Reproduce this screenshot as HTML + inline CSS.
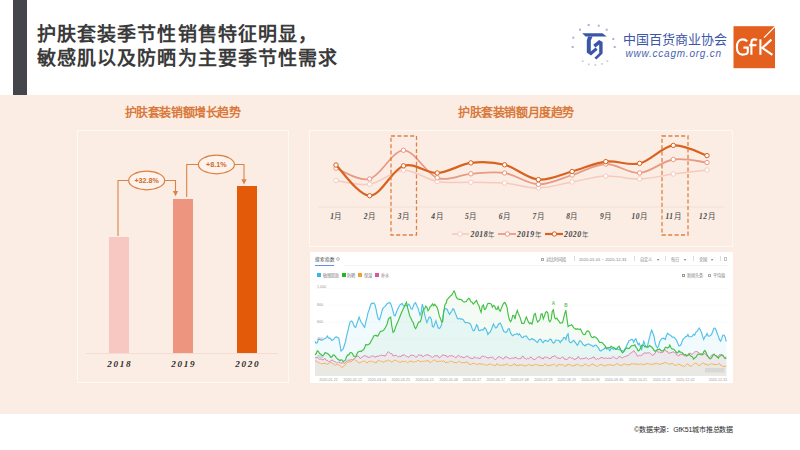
<!DOCTYPE html>
<html lang="zh-CN"><head><meta charset="utf-8">
<style>
*{margin:0;padding:0;box-sizing:border-box}
html,body{width:800px;height:450px;overflow:hidden;background:#fff;font-family:"Liberation Sans",sans-serif}
.abs{position:absolute}
#band{position:absolute;left:0;top:95px;width:800px;height:319px;background:#FBEDE4}
.title{position:absolute;left:36.9px;font-size:19px;letter-spacing:1.1px;font-weight:bold;color:#3a3a3a;line-height:24px;white-space:nowrap}
.sub{position:absolute;font-family:"Liberation Serif",serif;font-weight:bold;color:#D97A3C;font-size:12px;letter-spacing:-0.4px;white-space:nowrap;line-height:14px}
.panel{position:absolute;border:1.3px solid rgba(255,252,248,0.7)}
.bar{position:absolute}
.yr{position:absolute;font-family:"Liberation Serif",serif;font-style:italic;font-weight:bold;font-size:9.2px;letter-spacing:1.7px;color:#2e2e2e;width:40px;text-align:center;line-height:12px}
.pct{position:absolute;border:1.2px solid #D98346;border-radius:50%;color:#D06A2A;font-size:7.5px;font-weight:bold;text-align:center;background:#FBEDE4}
.bd{position:absolute;left:310px;top:252px;width:423px;height:131px;background:#fff}
.t4{position:absolute;font-size:4.2px;color:#808080;white-space:nowrap;line-height:5px}
</style></head><body>
<div class="abs" style="left:12.5px;top:0;width:14.2px;height:95px;background:#44464C"></div>
<div class="title" style="top:22.5px">护肤套装季节性销售特征明显，</div>
<div class="title" style="top:46.5px">敏感肌以及防晒为主要季节性需求</div>

<!-- CCAGM logo -->
<svg class="abs" style="left:0;top:0" width="800" height="95" viewBox="0 0 800 95">
  <g fill="#8f98c4" opacity="0.75">
    <rect x="572.3" y="36.7" width="2" height="2"/><rect x="579" y="28.7" width="2" height="2"/><rect x="587.7" y="24" width="2" height="2"/><rect x="597.7" y="24.7" width="2" height="2"/><rect x="605.7" y="28.7" width="2" height="2"/><rect x="612.3" y="38" width="2" height="2"/><rect x="613.7" y="46" width="2" height="2"/><rect x="571.7" y="46" width="2" height="2"/>
  </g>
  <g fill="#b8bdd6" opacity="0.8">
    <rect x="581.9" y="60.3" width="1.7" height="1.7"/><rect x="587.9" y="63.5" width="1.7" height="1.7"/><rect x="594.5" y="64.2" width="1.7" height="1.7"/><rect x="601.2" y="63" width="1.7" height="1.7"/><rect x="606.5" y="60.3" width="1.7" height="1.7"/>
  </g>
  <g fill="#3B55A8">
    <path d="M582.2,33.2 L602.4,33.2 L606.8,36.6 L585.6,36.6 Z"/>
    <path d="M588,36.6 L592.6,36.6 L590.8,40.5 L590.8,51.4 L595.6,47.4 L597.6,49.8 L591,55.6 L586.8,52.4 L586.8,40.4 Z"/>
    <path d="M593.2,44.8 L599.2,40 L602.6,42 L602.6,53.6 L596.4,59.6 L594.4,57.8 L599.2,53.2 L599.2,44.4 L595.4,47.4 Z"/>
  </g>
  <g fill="none" stroke="#fff" stroke-width="2.1" stroke-linecap="butt">
  </g>
</svg>
<div class="abs" style="left:622.5px;top:31.5px;font-size:13px;color:#3B55A8;letter-spacing:0px;white-space:nowrap;line-height:15px">中国百货商业协会</div>
<div class="abs" style="left:625.5px;top:47.5px;font-size:10px;font-style:italic;color:#4A63B0;letter-spacing:0.78px;white-space:nowrap;line-height:11px">www.ccagm.org.cn</div>
<!-- GfK -->
<svg class="abs" style="left:0;top:0" width="800" height="95" viewBox="0 0 800 95">
  <rect x="733.5" y="26.2" width="41.5" height="42" fill="#E4601F"/>
  <g fill="none" stroke="#fff" stroke-width="2.1">
    <path d="M747.2,41.4 C746,40 744.6,39.4 742.6,39.4 C738.8,39.4 736.9,42.8 736.9,47 C736.9,51.4 738.8,54.6 742.6,54.6 C745.4,54.6 747.8,53.6 747.8,51.8 L747.8,47.6 L743.4,47.6"/>
    <path d="M757,40.2 C756.2,39.6 755.2,39.4 754.2,39.4 C752.3,39.4 751.4,40.6 751.4,42.8 L751.4,54.8"/>
    <path d="M749.2,45.2 L756.4,45.2"/>
    <path d="M760.4,39.3 L760.4,54.8"/>
    <path d="M771.4,39.6 L762.3,47.9 L772.4,54.8" stroke-linejoin="miter"/>
  </g>
  <path d="M763.6,37.2 L775.2,25.6 L776,26.4 L764.5,37.9 Z" fill="#fff"/>
</svg>

<div id="band"></div>
<div class="sub" style="left:124.5px;top:105.5px">护肤套装销额增长趋势</div>
<div class="sub" style="left:458px;top:105.5px">护肤套装销额月度趋势</div>

<div class="panel" style="left:77px;top:130px;width:212px;height:253px"></div>
<div class="bar" style="left:109px;top:237px;width:20px;height:116px;background:#F7C8C1"></div>
<div class="bar" style="left:173px;top:198.5px;width:20px;height:154.5px;background:#EE9580"></div>
<div class="bar" style="left:237px;top:186px;width:20px;height:167px;background:#E35B08"></div>
<div class="abs" style="left:86px;top:353px;width:192px;height:1px;background:#F3DDD2"></div>
<div class="yr" style="left:99.8px;top:357.5px">2018</div>
<div class="yr" style="left:163.8px;top:357.5px">2019</div>
<div class="yr" style="left:227.8px;top:357.5px">2020</div>
<svg class="abs" style="left:0;top:0" width="300" height="260" viewBox="0 0 300 260">
  <g fill="none" stroke="#D98346" stroke-width="1.1">
    <path d="M118,236 L118,180.5 L129,180.5"/>
    <path d="M165,180.5 L175.5,180.5 L175.5,192"/>
    <path d="M186.7,197 L186.7,164.5 L198.5,164.5"/>
    <path d="M234.5,164.5 L244,164.5 L244,180.5"/>
  </g>
  <g fill="#D98346"><path d="M172.9,191 L178.1,191 L175.5,196.3 Z"/><path d="M241.4,179.3 L246.6,179.3 L244,184.5 Z"/></g>
  <ellipse cx="146.7" cy="180.5" rx="18" ry="9.3" fill="#FDF3EC" stroke="#D98346" stroke-width="1.2"/>
  <ellipse cx="216.4" cy="164.5" rx="18" ry="9.3" fill="#FDF3EC" stroke="#D98346" stroke-width="1.2"/>
  <g font-family="Liberation Sans, sans-serif" font-weight="bold" font-size="7.2" fill="#D06A2A" text-anchor="middle">
    <text x="146.7" y="183.3">+32.8%</text><text x="216.4" y="167.3">+8.1%</text>
  </g>
</svg>

<div class="panel" style="left:309.2px;top:129.8px;width:424px;height:117.2px"></div>

<svg class="abs" style="left:0;top:0" width="800" height="450" viewBox="0 0 800 450">
  <line x1="318" y1="207" x2="724" y2="207" stroke="#F3DCCF" stroke-width="0.8"/>
  <path d="M336.0,180.5 C341.6,181.1 358.5,185.9 369.7,184.2 C381.0,182.5 392.2,170.8 403.5,170.3 C414.7,169.9 425.9,179.5 437.2,181.5 C448.4,183.5 459.7,182.1 470.9,182.3 C482.2,182.6 493.4,182.1 504.6,183.0 C515.9,183.9 527.1,188.2 538.4,188.0 C549.6,187.8 560.9,184.0 572.1,182.0 C583.4,180.0 594.6,176.5 605.8,176.0 C617.1,175.5 628.3,179.3 639.6,179.0 C650.8,178.7 662.1,175.5 673.3,174.0 C684.5,172.5 701.4,170.7 707.0,170.0" fill="none" stroke="#F6CABE" stroke-width="1.5" stroke-linecap="round"/><circle cx="336.0" cy="180.5" r="2.2" fill="#fff" stroke="#F6CABE" stroke-width="1"/><circle cx="369.7" cy="184.2" r="2.2" fill="#fff" stroke="#F6CABE" stroke-width="1"/><circle cx="403.5" cy="170.3" r="2.2" fill="#fff" stroke="#F6CABE" stroke-width="1"/><circle cx="437.2" cy="181.5" r="2.2" fill="#fff" stroke="#F6CABE" stroke-width="1"/><circle cx="470.9" cy="182.3" r="2.2" fill="#fff" stroke="#F6CABE" stroke-width="1"/><circle cx="504.6" cy="183.0" r="2.2" fill="#fff" stroke="#F6CABE" stroke-width="1"/><circle cx="538.4" cy="188.0" r="2.2" fill="#fff" stroke="#F6CABE" stroke-width="1"/><circle cx="572.1" cy="182.0" r="2.2" fill="#fff" stroke="#F6CABE" stroke-width="1"/><circle cx="605.8" cy="176.0" r="2.2" fill="#fff" stroke="#F6CABE" stroke-width="1"/><circle cx="639.6" cy="179.0" r="2.2" fill="#fff" stroke="#F6CABE" stroke-width="1"/><circle cx="673.3" cy="174.0" r="2.2" fill="#fff" stroke="#F6CABE" stroke-width="1"/><circle cx="707.0" cy="170.0" r="2.2" fill="#fff" stroke="#F6CABE" stroke-width="1"/>
  <path d="M336.0,168.2 C341.6,170.0 358.5,181.9 369.7,178.9 C381.0,175.9 392.2,150.5 403.5,150.3 C414.7,150.1 425.9,173.9 437.2,177.8 C448.4,181.7 459.7,174.6 470.9,173.8 C482.2,173.0 493.4,171.2 504.6,173.0 C515.9,174.8 527.1,184.1 538.4,184.4 C549.6,184.7 560.9,178.4 572.1,175.0 C583.4,171.6 594.6,164.3 605.8,164.0 C617.1,163.7 628.3,173.8 639.6,173.0 C650.8,172.2 662.1,161.2 673.3,159.5 C684.5,157.8 701.4,162.0 707.0,162.5" fill="none" stroke="#E99A85" stroke-width="1.8" stroke-linecap="round"/><circle cx="336.0" cy="168.2" r="2.2" fill="#fff" stroke="#E99A85" stroke-width="1"/><circle cx="369.7" cy="178.9" r="2.2" fill="#fff" stroke="#E99A85" stroke-width="1"/><circle cx="403.5" cy="150.3" r="2.2" fill="#fff" stroke="#E99A85" stroke-width="1"/><circle cx="437.2" cy="177.8" r="2.2" fill="#fff" stroke="#E99A85" stroke-width="1"/><circle cx="470.9" cy="173.8" r="2.2" fill="#fff" stroke="#E99A85" stroke-width="1"/><circle cx="504.6" cy="173.0" r="2.2" fill="#fff" stroke="#E99A85" stroke-width="1"/><circle cx="538.4" cy="184.4" r="2.2" fill="#fff" stroke="#E99A85" stroke-width="1"/><circle cx="572.1" cy="175.0" r="2.2" fill="#fff" stroke="#E99A85" stroke-width="1"/><circle cx="605.8" cy="164.0" r="2.2" fill="#fff" stroke="#E99A85" stroke-width="1"/><circle cx="639.6" cy="173.0" r="2.2" fill="#fff" stroke="#E99A85" stroke-width="1"/><circle cx="673.3" cy="159.5" r="2.2" fill="#fff" stroke="#E99A85" stroke-width="1"/><circle cx="707.0" cy="162.5" r="2.2" fill="#fff" stroke="#E99A85" stroke-width="1"/>
  <path d="M336.0,165.0 C341.6,170.1 358.5,195.6 369.7,195.7 C381.0,195.8 392.2,169.6 403.5,165.8 C414.7,162.0 425.9,173.5 437.2,173.0 C448.4,172.5 459.7,164.3 470.9,162.9 C482.2,161.5 493.4,162.0 504.6,164.8 C515.9,167.6 527.1,178.5 538.4,179.6 C549.6,180.7 560.9,174.5 572.1,171.5 C583.4,168.5 594.6,162.9 605.8,161.6 C617.1,160.2 628.3,166.1 639.6,163.4 C650.8,160.7 662.1,146.7 673.3,145.4 C684.5,144.1 701.4,153.9 707.0,155.6" fill="none" stroke="#D8621E" stroke-width="2.2" stroke-linecap="round"/><circle cx="336.0" cy="165.0" r="2.2" fill="#fff" stroke="#D8621E" stroke-width="1"/><circle cx="369.7" cy="195.7" r="2.2" fill="#fff" stroke="#D8621E" stroke-width="1"/><circle cx="403.5" cy="165.8" r="2.2" fill="#fff" stroke="#D8621E" stroke-width="1"/><circle cx="437.2" cy="173.0" r="2.2" fill="#fff" stroke="#D8621E" stroke-width="1"/><circle cx="470.9" cy="162.9" r="2.2" fill="#fff" stroke="#D8621E" stroke-width="1"/><circle cx="504.6" cy="164.8" r="2.2" fill="#fff" stroke="#D8621E" stroke-width="1"/><circle cx="538.4" cy="179.6" r="2.2" fill="#fff" stroke="#D8621E" stroke-width="1"/><circle cx="572.1" cy="171.5" r="2.2" fill="#fff" stroke="#D8621E" stroke-width="1"/><circle cx="605.8" cy="161.6" r="2.2" fill="#fff" stroke="#D8621E" stroke-width="1"/><circle cx="639.6" cy="163.4" r="2.2" fill="#fff" stroke="#D8621E" stroke-width="1"/><circle cx="673.3" cy="145.4" r="2.2" fill="#fff" stroke="#D8621E" stroke-width="1"/><circle cx="707.0" cy="155.6" r="2.2" fill="#fff" stroke="#D8621E" stroke-width="1"/>
  <rect x="391" y="136" width="25.5" height="99" fill="none" stroke="#DF8040" stroke-width="1.3" stroke-dasharray="4 2.4"/>
  <rect x="662" y="136" width="26" height="99" fill="none" stroke="#DF8040" stroke-width="1.3" stroke-dasharray="4 2.4"/>
  <g font-family="Liberation Serif, serif" font-style="italic" font-weight="bold" font-size="7.5" letter-spacing="0.5" fill="#4a4a4a"><text x="336.0" y="219" text-anchor="middle">1<tspan font-style="normal" font-weight="normal" font-family="Liberation Sans, sans-serif">月</tspan></text><text x="369.7" y="219" text-anchor="middle">2<tspan font-style="normal" font-weight="normal" font-family="Liberation Sans, sans-serif">月</tspan></text><text x="403.5" y="219" text-anchor="middle">3<tspan font-style="normal" font-weight="normal" font-family="Liberation Sans, sans-serif">月</tspan></text><text x="437.2" y="219" text-anchor="middle">4<tspan font-style="normal" font-weight="normal" font-family="Liberation Sans, sans-serif">月</tspan></text><text x="470.9" y="219" text-anchor="middle">5<tspan font-style="normal" font-weight="normal" font-family="Liberation Sans, sans-serif">月</tspan></text><text x="504.6" y="219" text-anchor="middle">6<tspan font-style="normal" font-weight="normal" font-family="Liberation Sans, sans-serif">月</tspan></text><text x="538.4" y="219" text-anchor="middle">7<tspan font-style="normal" font-weight="normal" font-family="Liberation Sans, sans-serif">月</tspan></text><text x="572.1" y="219" text-anchor="middle">8<tspan font-style="normal" font-weight="normal" font-family="Liberation Sans, sans-serif">月</tspan></text><text x="605.8" y="219" text-anchor="middle">9<tspan font-style="normal" font-weight="normal" font-family="Liberation Sans, sans-serif">月</tspan></text><text x="639.6" y="219" text-anchor="middle">10<tspan font-style="normal" font-weight="normal" font-family="Liberation Sans, sans-serif">月</tspan></text><text x="673.3" y="219" text-anchor="middle">11<tspan font-style="normal" font-weight="normal" font-family="Liberation Sans, sans-serif">月</tspan></text><text x="707.0" y="219" text-anchor="middle">12<tspan font-style="normal" font-weight="normal" font-family="Liberation Sans, sans-serif">月</tspan></text></g>
  <g>
    <line x1="452" y1="234" x2="469" y2="234" stroke="#F6CABE" stroke-width="1.6"/><circle cx="460" cy="234" r="2.2" fill="#fff" stroke="#F6CABE"/>
    <line x1="498" y1="234" x2="516" y2="234" stroke="#E99A85" stroke-width="1.8"/><circle cx="507.4" cy="234" r="2.2" fill="#fff" stroke="#E99A85"/>
    <line x1="545" y1="234" x2="563" y2="234" stroke="#D8621E" stroke-width="2.2"/><circle cx="554.4" cy="234" r="2.2" fill="#fff" stroke="#D8621E"/>
    <g font-family="Liberation Serif, serif" font-style="italic" font-weight="bold" font-size="7.8" letter-spacing="0.5" fill="#444">
      <text x="470.5" y="237">2018<tspan font-size="6.4" font-style="normal" font-weight="normal" fill="#666" font-family="Liberation Sans, sans-serif">年</tspan></text>
      <text x="517" y="237">2019<tspan font-size="6.4" font-style="normal" font-weight="normal" fill="#666" font-family="Liberation Sans, sans-serif">年</tspan></text>
      <text x="564" y="237">2020<tspan font-size="6.4" font-style="normal" font-weight="normal" fill="#666" font-family="Liberation Sans, sans-serif">年</tspan></text>
    </g>
  </g>
</svg>

<div class="bd"></div>
<div class="t4" style="left:315.3px;top:256.6px;font-size:4.6px;letter-spacing:0.05px;color:#444">搜索指数</div>
<div class="abs" style="left:335.8px;top:256.8px;width:4.2px;height:4.2px;border:0.5px solid #c8c8c8;background:#e6e6e6;border-radius:50%"></div>
<div class="abs" style="left:315px;top:265.2px;width:18.6px;height:1px;background:#6a8ee6"></div>
<div class="abs" style="left:344px;top:265.4px;width:384px;height:0.5px;background:#f6f6f6"></div>
<div class="abs" style="left:317px;top:273px;width:4px;height:4px;background:#33b8e8"></div><div class="t4" style="left:322.6px;top:272.6px">敏感肌肤</div>
<div class="abs" style="left:341.7px;top:273px;width:4px;height:4px;background:#22b822"></div><div class="t4" style="left:347.3px;top:272.6px">防晒</div>
<div class="abs" style="left:358.3px;top:273px;width:4px;height:4px;background:#f0a030"></div><div class="t4" style="left:364.2px;top:272.6px">保湿</div>
<div class="abs" style="left:375.2px;top:273px;width:4px;height:4px;background:#e0559a"></div><div class="t4" style="left:380.5px;top:272.6px">补水</div>

<div class="abs" style="left:541px;top:257.5px;width:3px;height:3px;border:0.5px solid #aaa"></div><div class="t4" style="left:546px;top:256.5px">对比时间段</div>
<div class="t4" style="left:579px;top:256.5px">2020-01-01 ~ 2020-12-31</div>
<div class="t4" style="left:640px;top:256.5px">自定义</div><div class="t4" style="left:656.5px;top:256.5px">▾</div>
<div class="t4" style="left:671px;top:256.5px">每日</div><div class="t4" style="left:684px;top:256.5px">▾</div>
<div class="t4" style="left:698.7px;top:256.5px">全国</div><div class="t4" style="left:711px;top:256.5px">▾</div>
<div class="abs" style="left:573.5px;top:256px;width:0.5px;height:5px;background:#ddd"></div>
<div class="abs" style="left:633.5px;top:256px;width:0.5px;height:5px;background:#ddd"></div>
<div class="abs" style="left:664.5px;top:256px;width:0.5px;height:5px;background:#ddd"></div>
<div class="abs" style="left:692.5px;top:256px;width:0.5px;height:5px;background:#ddd"></div>
<div class="abs" style="left:719.5px;top:256px;width:0.5px;height:5px;background:#ddd"></div>
<div class="abs" style="left:723.5px;top:257px;width:3.5px;height:3.5px;border:0.5px solid #c4c4c4"></div>
<div class="abs" style="left:682px;top:273.5px;width:3px;height:3px;border:0.5px solid #999"></div><div class="t4" style="left:687px;top:272.5px">新闻头条</div>
<div class="abs" style="left:708px;top:273.5px;width:3px;height:3px;border:0.5px solid #aaa"></div><div class="t4" style="left:713px;top:272.5px">平均值</div>

<svg class="abs" style="left:0;top:0" width="800" height="450" viewBox="0 0 800 450">
  <defs>
    <linearGradient id="gb" x1="0" y1="0" x2="0" y2="1"><stop offset="0" stop-color="#43BDE8" stop-opacity="0.16"/><stop offset="1" stop-color="#43BDE8" stop-opacity="0.10"/></linearGradient>
    <linearGradient id="gg" x1="0" y1="0" x2="0" y2="1"><stop offset="0" stop-color="#3CC13C" stop-opacity="0.10"/><stop offset="1" stop-color="#3CC13C" stop-opacity="0.08"/></linearGradient>
  </defs>
  <line x1="315" y1="288.5" x2="727" y2="288.5" stroke="#f5f5f5" stroke-width="0.5"/><line x1="315" y1="305.0" x2="727" y2="305.0" stroke="#f5f5f5" stroke-width="0.5"/><line x1="315" y1="322.0" x2="727" y2="322.0" stroke="#f5f5f5" stroke-width="0.5"/><line x1="315" y1="339.0" x2="727" y2="339.0" stroke="#f5f5f5" stroke-width="0.5"/><line x1="315" y1="356.0" x2="727" y2="356.0" stroke="#f5f5f5" stroke-width="0.5"/>
  <path d="M315.0,355.0 L316.1,353.6 L317.3,350.7 L318.4,351.3 L319.5,353.5 L320.6,353.9 L321.8,355.2 L322.9,355.7 L324.0,354.5 L325.2,352.6 L326.3,353.1 L327.4,353.3 L328.6,354.4 L329.7,355.7 L330.8,357.4 L331.9,356.7 L333.1,355.1 L334.2,355.0 L335.3,356.3 L336.5,357.8 L337.6,359.1 L338.7,359.8 L339.9,360.5 L341.0,359.9 L342.1,360.0 L343.2,361.6 L344.4,360.9 L345.5,360.0 L346.6,356.6 L347.8,354.8 L348.9,354.8 L350.0,352.8 L351.2,352.5 L352.3,353.3 L353.4,355.6 L354.5,356.6 L355.7,356.7 L356.8,354.1 L357.9,352.2 L359.1,351.6 L360.2,351.1 L361.3,351.5 L362.5,350.2 L363.6,349.8 L364.7,347.6 L365.8,344.5 L367.0,344.9 L368.1,344.8 L369.2,344.1 L370.4,342.7 L371.5,340.3 L372.6,338.5 L373.8,335.7 L374.9,335.6 L376.0,335.1 L377.1,336.2 L378.3,335.5 L379.4,333.0 L380.5,331.5 L381.7,331.1 L382.8,330.7 L383.9,329.9 L385.1,328.0 L386.2,325.9 L387.3,323.5 L388.4,319.1 L389.6,317.7 L390.7,317.2 L391.8,326.0 L393.0,332.3 L394.1,331.7 L395.2,328.4 L396.4,324.9 L397.5,322.4 L398.6,320.1 L399.7,317.2 L400.9,314.0 L402.0,311.6 L403.1,309.0 L404.3,306.8 L405.4,304.3 L406.5,302.4 L407.7,308.2 L408.8,312.4 L409.9,316.6 L411.0,318.2 L412.2,321.3 L413.3,322.6 L414.4,326.6 L415.6,328.7 L416.7,326.8 L417.8,323.7 L419.0,321.8 L420.1,321.8 L421.2,319.2 L422.3,313.4 L423.5,309.3 L424.6,309.1 L425.7,306.1 L426.9,307.4 L428.0,310.7 L429.1,309.3 L430.3,306.4 L431.4,305.8 L432.5,303.9 L433.6,305.7 L434.8,304.3 L435.9,306.0 L437.0,307.1 L438.2,310.9 L439.3,315.9 L440.4,318.4 L441.6,322.0 L442.7,321.4 L443.8,311.3 L444.9,304.9 L446.1,303.2 L447.2,299.4 L448.3,298.3 L449.5,297.0 L450.6,295.9 L451.7,295.0 L452.9,293.0 L454.0,291.0 L455.1,292.9 L456.2,296.9 L457.4,298.8 L458.5,299.1 L459.6,299.4 L460.8,299.4 L461.9,300.3 L463.0,301.4 L464.2,302.1 L465.3,301.7 L466.4,301.5 L467.5,299.5 L468.7,298.3 L469.8,299.2 L470.9,301.9 L472.1,302.3 L473.2,304.0 L474.3,302.8 L475.5,301.5 L476.6,300.3 L477.7,303.8 L478.8,305.2 L480.0,309.4 L481.1,312.4 L482.2,306.3 L483.4,305.0 L484.5,309.4 L485.6,309.0 L486.8,305.8 L487.9,303.5 L489.0,303.4 L490.1,303.5 L491.3,304.1 L492.4,307.2 L493.5,305.3 L494.7,306.1 L495.8,309.0 L496.9,309.5 L498.1,306.6 L499.2,309.9 L500.3,311.1 L501.4,308.1 L502.6,305.3 L503.7,303.2 L504.8,302.4 L506.0,304.6 L507.1,307.6 L508.2,315.0 L509.4,319.8 L510.5,321.6 L511.6,320.0 L512.7,315.5 L513.9,315.6 L515.0,319.1 L516.1,313.6 L517.3,310.5 L518.4,313.7 L519.5,315.9 L520.7,319.4 L521.8,323.4 L522.9,323.4 L524.0,323.2 L525.2,320.1 L526.3,317.1 L527.4,319.6 L528.6,322.4 L529.7,323.7 L530.8,322.8 L532.0,324.1 L533.1,319.5 L534.2,314.4 L535.3,313.5 L536.5,319.2 L537.6,322.0 L538.7,321.0 L539.9,319.5 L541.0,314.1 L542.1,313.8 L543.3,318.8 L544.4,316.1 L545.5,312.5 L546.6,311.5 L547.8,312.8 L548.9,320.4 L550.0,321.7 L551.2,319.4 L552.3,311.2 L553.4,309.7 L554.6,317.5 L555.7,318.9 L556.8,318.1 L557.9,319.9 L559.1,321.3 L560.2,323.2 L561.3,322.8 L562.5,322.7 L563.6,318.4 L564.7,313.7 L565.9,310.3 L567.0,319.1 L568.1,326.6 L569.2,325.8 L570.4,325.3 L571.5,324.8 L572.6,325.9 L573.8,327.9 L574.9,328.4 L576.0,329.5 L577.2,328.7 L578.3,329.3 L579.4,329.4 L580.5,329.0 L581.7,331.6 L582.8,333.6 L583.9,334.6 L585.1,334.4 L586.2,332.1 L587.3,330.9 L588.5,331.1 L589.6,332.5 L590.7,335.8 L591.8,337.2 L593.0,337.5 L594.1,336.6 L595.2,336.9 L596.4,338.0 L597.5,339.0 L598.6,340.9 L599.8,342.5 L600.9,342.3 L602.0,342.6 L603.1,343.6 L604.3,345.0 L605.4,346.2 L606.5,348.3 L607.7,347.7 L608.8,347.6 L609.9,347.9 L611.1,346.2 L612.2,347.0 L613.3,347.2 L614.4,347.9 L615.6,349.3 L616.7,348.9 L617.8,347.4 L619.0,346.2 L620.1,348.5 L621.2,351.0 L622.4,352.9 L623.5,351.8 L624.6,349.4 L625.7,348.8 L626.9,347.9 L628.0,348.5 L629.1,348.4 L630.3,347.1 L631.4,345.9 L632.5,345.7 L633.7,345.4 L634.8,344.8 L635.9,347.1 L637.0,348.5 L638.2,351.0 L639.3,350.3 L640.4,348.6 L641.6,345.2 L642.7,345.0 L643.8,345.4 L645.0,347.1 L646.1,346.5 L647.2,346.8 L648.3,347.1 L649.5,345.5 L650.6,346.2 L651.7,347.0 L652.9,348.3 L654.0,350.3 L655.1,351.3 L656.3,350.6 L657.4,349.3 L658.5,349.6 L659.6,348.9 L660.8,350.4 L661.9,350.8 L663.0,350.7 L664.2,349.7 L665.3,347.2 L666.4,347.2 L667.6,348.0 L668.7,347.5 L669.8,345.2 L670.9,347.5 L672.1,348.9 L673.2,349.1 L674.3,349.6 L675.5,351.2 L676.6,352.5 L677.7,352.9 L678.9,350.7 L680.0,352.1 L681.1,352.0 L682.2,352.6 L683.4,354.6 L684.5,355.4 L685.6,354.6 L686.8,355.7 L687.9,355.5 L689.0,354.2 L690.2,355.5 L691.3,356.2 L692.4,356.8 L693.5,359.1 L694.7,358.0 L695.8,357.4 L696.9,355.5 L698.1,354.1 L699.2,354.3 L700.3,354.4 L701.5,353.9 L702.6,354.7 L703.7,351.9 L704.8,350.4 L706.0,352.3 L707.1,354.9 L708.2,356.7 L709.4,358.5 L710.5,358.8 L711.6,357.7 L712.8,355.4 L713.9,354.2 L715.0,355.2 L716.1,355.7 L717.3,356.9 L718.4,358.2 L719.5,356.1 L720.7,355.7 L721.8,355.0 L722.9,355.2 L724.1,357.1 L725.2,358.4 L726.3,358.5 L726.3,375.7 L315.0,375.7 Z" fill="#3CC13C" fill-opacity="0.06"/>
  <path d="M315.0,341.4 L316.1,343.3 L317.3,342.6 L318.4,339.5 L319.5,339.1 L320.6,339.9 L321.8,340.2 L322.9,339.7 L324.0,338.9 L325.2,338.4 L326.3,337.7 L327.4,336.1 L328.6,338.2 L329.7,337.9 L330.8,339.0 L331.9,340.5 L333.1,339.8 L334.2,338.6 L335.3,337.2 L336.5,336.9 L337.6,337.5 L338.7,338.0 L339.9,344.0 L341.0,351.1 L342.1,349.9 L343.2,348.9 L344.4,345.2 L345.5,341.6 L346.6,336.1 L347.8,331.4 L348.9,326.3 L350.0,322.2 L351.2,320.9 L352.3,321.6 L353.4,324.3 L354.5,326.8 L355.7,327.5 L356.8,323.9 L357.9,320.8 L359.1,317.1 L360.2,319.9 L361.3,322.5 L362.5,323.9 L363.6,326.2 L364.7,327.3 L365.8,321.9 L367.0,317.4 L368.1,312.4 L369.2,309.7 L370.4,305.8 L371.5,303.3 L372.6,303.3 L373.8,303.0 L374.9,304.4 L376.0,308.8 L377.1,314.5 L378.3,319.0 L379.4,319.9 L380.5,316.8 L381.7,311.9 L382.8,308.6 L383.9,307.4 L385.1,306.4 L386.2,304.9 L387.3,303.4 L388.4,303.1 L389.6,302.5 L390.7,303.5 L391.8,306.8 L393.0,311.0 L394.1,315.5 L395.2,315.8 L396.4,312.3 L397.5,309.6 L398.6,307.3 L399.7,305.3 L400.9,304.2 L402.0,303.5 L403.1,305.1 L404.3,306.2 L405.4,305.7 L406.5,305.6 L407.7,305.3 L408.8,304.1 L409.9,305.9 L411.0,308.7 L412.2,309.1 L413.3,306.2 L414.4,303.5 L415.6,302.6 L416.7,305.7 L417.8,307.4 L419.0,311.7 L420.1,315.2 L421.2,312.2 L422.3,304.1 L423.5,308.4 L424.6,314.2 L425.7,318.9 L426.9,322.6 L428.0,319.9 L429.1,317.1 L430.3,317.2 L431.4,319.5 L432.5,326.7 L433.6,327.1 L434.8,323.6 L435.9,320.8 L437.0,324.1 L438.2,327.8 L439.3,328.5 L440.4,327.3 L441.6,324.8 L442.7,318.4 L443.8,310.7 L444.9,308.4 L446.1,308.7 L447.2,309.5 L448.3,311.9 L449.5,314.3 L450.6,312.8 L451.7,311.3 L452.9,308.7 L454.0,309.7 L455.1,312.6 L456.2,315.2 L457.4,318.5 L458.5,318.8 L459.6,318.5 L460.8,319.2 L461.9,318.9 L463.0,319.5 L464.2,321.3 L465.3,322.9 L466.4,322.5 L467.5,322.5 L468.7,323.3 L469.8,323.4 L470.9,324.9 L472.1,328.4 L473.2,330.8 L474.3,330.5 L475.5,327.7 L476.6,324.8 L477.7,326.3 L478.8,330.4 L480.0,330.6 L481.1,329.8 L482.2,329.8 L483.4,329.8 L484.5,327.7 L485.6,328.5 L486.8,331.0 L487.9,334.4 L489.0,332.7 L490.1,332.3 L491.3,329.8 L492.4,326.7 L493.5,324.0 L494.7,326.5 L495.8,327.9 L496.9,327.3 L498.1,324.9 L499.2,323.6 L500.3,323.2 L501.4,325.2 L502.6,328.5 L503.7,331.3 L504.8,331.9 L506.0,332.5 L507.1,331.5 L508.2,328.8 L509.4,328.9 L510.5,332.9 L511.6,334.6 L512.7,335.8 L513.9,334.8 L515.0,334.3 L516.1,334.1 L517.3,333.6 L518.4,335.0 L519.5,333.9 L520.7,335.7 L521.8,337.5 L522.9,337.6 L524.0,336.2 L525.2,336.2 L526.3,336.0 L527.4,337.5 L528.6,339.2 L529.7,339.9 L530.8,339.5 L532.0,338.5 L533.1,339.4 L534.2,339.8 L535.3,340.7 L536.5,341.8 L537.6,342.5 L538.7,340.4 L539.9,339.2 L541.0,339.5 L542.1,341.9 L543.3,342.6 L544.4,340.8 L545.5,340.4 L546.6,340.7 L547.8,341.6 L548.9,340.4 L550.0,339.2 L551.2,339.4 L552.3,341.9 L553.4,343.1 L554.6,342.5 L555.7,340.1 L556.8,340.2 L557.9,340.2 L559.1,340.8 L560.2,342.6 L561.3,340.7 L562.5,340.1 L563.6,337.5 L564.7,337.5 L565.9,339.5 L567.0,335.3 L568.1,333.8 L569.2,341.5 L570.4,342.7 L571.5,342.4 L572.6,341.1 L573.8,340.3 L574.9,341.8 L576.0,343.3 L577.2,345.2 L578.3,344.0 L579.4,340.8 L580.5,341.0 L581.7,342.0 L582.8,344.3 L583.9,345.1 L585.1,345.9 L586.2,344.6 L587.3,344.4 L588.5,343.8 L589.6,344.4 L590.7,345.3 L591.8,345.4 L593.0,346.6 L594.1,346.0 L595.2,345.1 L596.4,345.2 L597.5,347.0 L598.6,348.0 L599.8,350.6 L600.9,351.1 L602.0,349.9 L603.1,349.5 L604.3,348.7 L605.4,347.3 L606.5,349.0 L607.7,348.5 L608.8,349.4 L609.9,350.8 L611.1,348.5 L612.2,347.9 L613.3,349.2 L614.4,348.8 L615.6,348.7 L616.7,349.1 L617.8,349.3 L619.0,349.9 L620.1,348.5 L621.2,350.7 L622.4,350.5 L623.5,351.8 L624.6,351.0 L625.7,347.7 L626.9,345.1 L628.0,343.1 L629.1,340.5 L630.3,340.2 L631.4,339.4 L632.5,339.5 L633.7,342.2 L634.8,339.9 L635.9,338.8 L637.0,342.1 L638.2,344.6 L639.3,343.3 L640.4,346.6 L641.6,349.4 L642.7,345.1 L643.8,341.4 L645.0,344.8 L646.1,346.9 L647.2,347.4 L648.3,342.4 L649.5,337.7 L650.6,333.2 L651.7,330.2 L652.9,333.2 L654.0,336.2 L655.1,342.6 L656.3,346.5 L657.4,347.8 L658.5,346.3 L659.6,341.8 L660.8,339.8 L661.9,338.4 L663.0,338.1 L664.2,338.6 L665.3,339.5 L666.4,335.7 L667.6,333.3 L668.7,334.3 L669.8,335.0 L670.9,335.7 L672.1,336.9 L673.2,337.1 L674.3,337.5 L675.5,338.9 L676.6,340.5 L677.7,342.9 L678.9,346.1 L680.0,345.8 L681.1,344.4 L682.2,341.0 L683.4,338.6 L684.5,338.0 L685.6,336.5 L686.8,336.4 L687.9,334.4 L689.0,336.7 L690.2,336.7 L691.3,336.7 L692.4,336.1 L693.5,334.3 L694.7,335.2 L695.8,332.4 L696.9,331.5 L698.1,329.7 L699.2,328.0 L700.3,329.7 L701.5,332.5 L702.6,336.4 L703.7,339.5 L704.8,336.8 L706.0,335.8 L707.1,333.4 L708.2,335.9 L709.4,336.1 L710.5,335.5 L711.6,334.4 L712.8,331.3 L713.9,328.2 L715.0,328.1 L716.1,330.0 L717.3,333.7 L718.4,336.4 L719.5,339.6 L720.7,341.1 L721.8,338.4 L722.9,335.1 L724.1,335.3 L725.2,337.2 L726.3,341.5 L726.3,375.7 L315.0,375.7 Z" fill="#43BDE8" fill-opacity="0.075"/>
  <path d="M315.0,357.6 L316.1,357.8 L317.3,357.4 L318.4,358.4 L319.5,359.4 L320.6,359.1 L321.8,359.1 L322.9,360.2 L324.0,358.7 L325.2,358.6 L326.3,360.5 L327.4,360.4 L328.6,361.8 L329.7,361.3 L330.8,361.2 L331.9,359.8 L333.1,360.6 L334.2,361.6 L335.3,361.8 L336.5,362.9 L337.6,362.9 L338.7,361.7 L339.9,362.8 L341.0,362.9 L342.1,363.1 L343.2,362.5 L344.4,363.6 L345.5,362.0 L346.6,361.3 L347.8,360.7 L348.9,359.9 L350.0,360.3 L351.2,359.5 L352.3,360.1 L353.4,358.9 L354.5,358.6 L355.7,357.6 L356.8,355.8 L357.9,356.1 L359.1,356.9 L360.2,358.6 L361.3,357.5 L362.5,357.2 L363.6,355.8 L364.7,355.8 L365.8,355.9 L367.0,356.5 L368.1,357.3 L369.2,357.2 L370.4,357.1 L371.5,356.0 L372.6,356.1 L373.8,356.3 L374.9,357.1 L376.0,357.0 L377.1,355.9 L378.3,356.4 L379.4,355.8 L380.5,355.4 L381.7,355.0 L382.8,355.8 L383.9,355.3 L385.1,356.3 L386.2,354.6 L387.3,352.9 L388.4,351.6 L389.6,352.8 L390.7,353.6 L391.8,353.6 L393.0,355.9 L394.1,355.7 L395.2,355.4 L396.4,355.3 L397.5,356.4 L398.6,357.1 L399.7,356.0 L400.9,356.8 L402.0,355.1 L403.1,355.5 L404.3,354.5 L405.4,355.8 L406.5,356.8 L407.7,356.5 L408.8,357.5 L409.9,355.8 L411.0,354.8 L412.2,355.6 L413.3,355.0 L414.4,356.1 L415.6,357.0 L416.7,357.1 L417.8,355.6 L419.0,354.5 L420.1,355.6 L421.2,354.8 L422.3,356.5 L423.5,356.7 L424.6,355.5 L425.7,355.2 L426.9,354.8 L428.0,354.9 L429.1,355.3 L430.3,356.1 L431.4,356.9 L432.5,357.6 L433.6,356.4 L434.8,355.8 L435.9,356.1 L437.0,355.5 L438.2,356.2 L439.3,357.9 L440.4,357.0 L441.6,356.4 L442.7,354.7 L443.8,355.1 L444.9,355.7 L446.1,355.4 L447.2,357.1 L448.3,357.1 L449.5,355.5 L450.6,356.0 L451.7,355.5 L452.9,356.3 L454.0,356.4 L455.1,357.6 L456.2,357.7 L457.4,355.9 L458.5,355.3 L459.6,356.3 L460.8,357.2 L461.9,356.6 L463.0,357.6 L464.2,357.8 L465.3,356.8 L466.4,356.4 L467.5,356.2 L468.7,356.8 L469.8,358.0 L470.9,358.2 L472.1,358.4 L473.2,358.7 L474.3,356.8 L475.5,357.6 L476.6,358.1 L477.7,357.8 L478.8,358.0 L480.0,358.9 L481.1,357.1 L482.2,356.2 L483.4,356.3 L484.5,357.0 L485.6,356.6 L486.8,357.7 L487.9,357.8 L489.0,358.2 L490.1,357.0 L491.3,357.7 L492.4,356.9 L493.5,358.1 L494.7,359.3 L495.8,359.6 L496.9,358.2 L498.1,357.0 L499.2,356.5 L500.3,357.5 L501.4,357.5 L502.6,359.0 L503.7,358.9 L504.8,357.1 L506.0,356.6 L507.1,357.5 L508.2,357.6 L509.4,358.7 L510.5,358.5 L511.6,358.2 L512.7,358.0 L513.9,358.4 L515.0,357.3 L516.1,357.7 L517.3,358.4 L518.4,358.8 L519.5,358.6 L520.7,358.8 L521.8,356.7 L522.9,356.0 L524.0,357.9 L525.2,358.4 L526.3,359.3 L527.4,358.3 L528.6,358.8 L529.7,358.2 L530.8,356.8 L532.0,358.2 L533.1,359.2 L534.2,359.5 L535.3,359.2 L536.5,358.1 L537.6,357.4 L538.7,356.8 L539.9,356.8 L541.0,358.3 L542.1,358.2 L543.3,358.9 L544.4,356.9 L545.5,357.7 L546.6,357.0 L547.8,357.7 L548.9,358.3 L550.0,358.7 L551.2,358.0 L552.3,356.4 L553.4,357.0 L554.6,355.6 L555.7,356.3 L556.8,357.8 L557.9,358.2 L559.1,358.1 L560.2,358.7 L561.3,357.6 L562.5,357.0 L563.6,357.4 L564.7,359.4 L565.9,359.2 L567.0,359.6 L568.1,358.2 L569.2,357.2 L570.4,357.5 L571.5,358.3 L572.6,357.8 L573.8,359.3 L574.9,359.5 L576.0,358.7 L577.2,358.2 L578.3,356.5 L579.4,358.1 L580.5,359.3 L581.7,358.4 L582.8,358.8 L583.9,358.3 L585.1,358.2 L586.2,357.7 L587.3,358.2 L588.5,359.4 L589.6,358.5 L590.7,358.5 L591.8,358.0 L593.0,357.3 L594.1,356.9 L595.2,358.9 L596.4,359.4 L597.5,358.5 L598.6,359.2 L599.8,358.3 L600.9,357.7 L602.0,357.5 L603.1,358.1 L604.3,358.4 L605.4,358.2 L606.5,358.1 L607.7,358.4 L608.8,357.9 L609.9,358.5 L611.1,358.3 L612.2,357.5 L613.3,356.7 L614.4,357.7 L615.6,358.3 L616.7,358.9 L617.8,358.2 L619.0,356.4 L620.1,356.7 L621.2,357.6 L622.4,357.9 L623.5,357.3 L624.6,356.6 L625.7,356.5 L626.9,355.7 L628.0,355.8 L629.1,354.7 L630.3,353.2 L631.4,352.8 L632.5,352.2 L633.7,350.5 L634.8,351.9 L635.9,353.5 L637.0,355.7 L638.2,356.4 L639.3,355.1 L640.4,355.7 L641.6,355.5 L642.7,353.8 L643.8,353.7 L645.0,352.5 L646.1,353.4 L647.2,352.8 L648.3,352.8 L649.5,352.8 L650.6,353.5 L651.7,354.9 L652.9,355.6 L654.0,354.0 L655.1,353.4 L656.3,350.9 L657.4,350.7 L658.5,352.5 L659.6,352.1 L660.8,352.8 L661.9,352.2 L663.0,352.4 L664.2,349.9 L665.3,349.6 L666.4,351.7 L667.6,351.4 L668.7,353.4 L669.8,353.0 L670.9,352.7 L672.1,352.3 L673.2,351.7 L674.3,352.7 L675.5,352.3 L676.6,355.0 L677.7,355.3 L678.9,356.0 L680.0,354.2 L681.1,354.5 L682.2,354.7 L683.4,353.5 L684.5,355.0 L685.6,356.0 L686.8,356.4 L687.9,354.3 L689.0,353.3 L690.2,353.2 L691.3,354.0 L692.4,354.2 L693.5,352.9 L694.7,351.9 L695.8,351.6 L696.9,351.5 L698.1,352.3 L699.2,352.7 L700.3,354.2 L701.5,355.3 L702.6,354.0 L703.7,354.2 L704.8,353.2 L706.0,354.8 L707.1,356.2 L708.2,357.1 L709.4,357.4 L710.5,356.3 L711.6,355.3 L712.8,355.0 L713.9,353.9 L715.0,354.8 L716.1,356.7 L717.3,357.2 L718.4,355.6 L719.5,354.5 L720.7,354.4 L721.8,354.5 L722.9,356.2 L724.1,357.4 L725.2,358.2 L726.3,356.7 L726.3,375.7 L315.0,375.7 Z" fill="#ECE9EC"/>
  <path d="M315.0,361.0 L316.1,360.9 L317.3,362.0 L318.4,362.4 L319.5,362.9 L320.6,363.5 L321.8,364.0 L322.9,363.4 L324.0,363.4 L325.2,363.1 L326.3,364.3 L327.4,364.1 L328.6,363.6 L329.7,362.8 L330.8,362.2 L331.9,363.0 L333.1,363.6 L334.2,364.5 L335.3,365.3 L336.5,364.6 L337.6,364.6 L338.7,365.0 L339.9,365.6 L341.0,366.7 L342.1,367.8 L343.2,366.1 L344.4,365.9 L345.5,364.7 L346.6,363.2 L347.8,361.9 L348.9,362.2 L350.0,361.6 L351.2,361.9 L352.3,360.7 L353.4,360.0 L354.5,359.4 L355.7,360.6 L356.8,360.8 L357.9,362.2 L359.1,362.9 L360.2,362.6 L361.3,361.9 L362.5,361.6 L363.6,361.2 L364.7,361.1 L365.8,362.0 L367.0,363.2 L368.1,361.8 L369.2,361.3 L370.4,361.7 L371.5,360.9 L372.6,361.6 L373.8,362.0 L374.9,362.2 L376.0,363.1 L377.1,361.2 L378.3,360.9 L379.4,360.4 L380.5,361.4 L381.7,361.3 L382.8,361.8 L383.9,362.3 L385.1,361.0 L386.2,360.8 L387.3,361.1 L388.4,360.1 L389.6,360.6 L390.7,361.3 L391.8,362.1 L393.0,361.3 L394.1,360.2 L395.2,360.3 L396.4,360.4 L397.5,361.5 L398.6,361.3 L399.7,362.3 L400.9,362.1 L402.0,361.6 L403.1,361.1 L404.3,361.8 L405.4,360.9 L406.5,361.8 L407.7,362.7 L408.8,361.9 L409.9,360.8 L411.0,361.5 L412.2,361.3 L413.3,362.3 L414.4,361.8 L415.6,361.5 L416.7,361.4 L417.8,360.4 L419.0,360.6 L420.1,361.9 L421.2,361.5 L422.3,361.4 L423.5,361.3 L424.6,361.0 L425.7,361.4 L426.9,360.6 L428.0,360.8 L429.1,361.1 L430.3,362.9 L431.4,361.9 L432.5,361.0 L433.6,360.2 L434.8,360.0 L435.9,360.6 L437.0,362.0 L438.2,361.5 L439.3,361.2 L440.4,361.4 L441.6,360.6 L442.7,361.7 L443.8,360.7 L444.9,362.0 L446.1,362.8 L447.2,362.2 L448.3,362.7 L449.5,361.4 L450.6,360.9 L451.7,361.6 L452.9,361.6 L454.0,362.7 L455.1,362.4 L456.2,362.9 L457.4,362.4 L458.5,361.7 L459.6,361.4 L460.8,362.4 L461.9,362.9 L463.0,362.8 L464.2,362.4 L465.3,363.0 L466.4,361.7 L467.5,362.0 L468.7,364.1 L469.8,364.0 L470.9,364.7 L472.1,363.3 L473.2,363.6 L474.3,363.1 L475.5,363.8 L476.6,364.4 L477.7,364.5 L478.8,363.8 L480.0,363.6 L481.1,364.1 L482.2,364.0 L483.4,364.5 L484.5,364.2 L485.6,365.2 L486.8,365.3 L487.9,364.6 L489.0,364.3 L490.1,363.8 L491.3,364.4 L492.4,365.1 L493.5,364.8 L494.7,365.8 L495.8,365.4 L496.9,363.5 L498.1,364.8 L499.2,365.2 L500.3,365.4 L501.4,364.8 L502.6,366.0 L503.7,364.3 L504.8,365.1 L506.0,364.4 L507.1,363.8 L508.2,364.6 L509.4,365.8 L510.5,365.6 L511.6,365.3 L512.7,365.1 L513.9,363.8 L515.0,363.8 L516.1,365.9 L517.3,364.9 L518.4,366.2 L519.5,364.4 L520.7,365.0 L521.8,364.8 L522.9,365.3 L524.0,365.4 L525.2,366.3 L526.3,365.1 L527.4,365.4 L528.6,364.3 L529.7,365.0 L530.8,365.2 L532.0,365.4 L533.1,365.8 L534.2,364.9 L535.3,364.4 L536.5,364.8 L537.6,364.5 L538.7,365.4 L539.9,365.7 L541.0,365.3 L542.1,365.5 L543.3,365.6 L544.4,364.7 L545.5,363.7 L546.6,365.3 L547.8,365.9 L548.9,365.1 L550.0,365.7 L551.2,364.9 L552.3,365.0 L553.4,364.1 L554.6,364.3 L555.7,365.3 L556.8,366.5 L557.9,364.9 L559.1,364.4 L560.2,364.7 L561.3,364.9 L562.5,364.7 L563.6,365.2 L564.7,366.3 L565.9,366.1 L567.0,364.4 L568.1,365.2 L569.2,364.0 L570.4,364.5 L571.5,366.0 L572.6,365.7 L573.8,366.2 L574.9,364.7 L576.0,365.3 L577.2,364.1 L578.3,364.4 L579.4,365.6 L580.5,365.7 L581.7,365.9 L582.8,365.9 L583.9,365.0 L585.1,363.7 L586.2,364.6 L587.3,365.5 L588.5,365.8 L589.6,366.1 L590.7,365.1 L591.8,363.9 L593.0,364.0 L594.1,365.3 L595.2,365.1 L596.4,366.2 L597.5,366.4 L598.6,365.3 L599.8,364.8 L600.9,364.5 L602.0,364.4 L603.1,365.9 L604.3,365.6 L605.4,366.2 L606.5,364.7 L607.7,365.0 L608.8,364.7 L609.9,364.8 L611.1,365.1 L612.2,365.0 L613.3,365.9 L614.4,364.7 L615.6,364.6 L616.7,363.6 L617.8,363.8 L619.0,364.5 L620.1,366.0 L621.2,364.8 L622.4,365.4 L623.5,363.9 L624.6,364.0 L625.7,364.0 L626.9,365.0 L628.0,364.5 L629.1,364.8 L630.3,365.1 L631.4,363.3 L632.5,363.9 L633.7,363.6 L634.8,364.2 L635.9,364.1 L637.0,363.9 L638.2,364.8 L639.3,364.0 L640.4,363.8 L641.6,364.1 L642.7,364.9 L643.8,364.0 L645.0,364.6 L646.1,363.9 L647.2,363.4 L648.3,363.8 L649.5,363.9 L650.6,364.8 L651.7,363.8 L652.9,364.5 L654.0,364.0 L655.1,363.5 L656.3,363.1 L657.4,363.8 L658.5,363.5 L659.6,364.9 L660.8,363.9 L661.9,363.6 L663.0,363.4 L664.2,362.9 L665.3,362.5 L666.4,362.9 L667.6,363.4 L668.7,363.9 L669.8,364.3 L670.9,363.8 L672.1,363.1 L673.2,363.8 L674.3,365.3 L675.5,365.1 L676.6,365.3 L677.7,364.3 L678.9,364.1 L680.0,364.6 L681.1,365.3 L682.2,365.9 L683.4,365.9 L684.5,366.7 L685.6,365.5 L686.8,364.1 L687.9,363.7 L689.0,365.4 L690.2,365.9 L691.3,366.1 L692.4,365.4 L693.5,364.3 L694.7,363.3 L695.8,363.3 L696.9,363.5 L698.1,365.2 L699.2,365.5 L700.3,365.2 L701.5,363.6 L702.6,363.1 L703.7,363.0 L704.8,364.4 L706.0,363.8 L707.1,365.2 L708.2,365.0 L709.4,364.3 L710.5,364.5 L711.6,363.3 L712.8,364.2 L713.9,364.3 L715.0,364.6 L716.1,364.5 L717.3,364.5 L718.4,363.7 L719.5,363.5 L720.7,365.5 L721.8,365.2 L722.9,366.7 L724.1,366.6 L725.2,366.3 L726.3,365.9 L726.3,375.7 L315.0,375.7 Z" fill="#EAE8E3"/>
  <path d="M315.0,361.0 L316.1,360.9 L317.3,362.0 L318.4,362.4 L319.5,362.9 L320.6,363.5 L321.8,364.0 L322.9,363.4 L324.0,363.4 L325.2,363.1 L326.3,364.3 L327.4,364.1 L328.6,363.6 L329.7,362.8 L330.8,362.2 L331.9,363.0 L333.1,363.6 L334.2,364.5 L335.3,365.3 L336.5,364.6 L337.6,364.6 L338.7,365.0 L339.9,365.6 L341.0,366.7 L342.1,367.8 L343.2,366.1 L344.4,365.9 L345.5,364.7 L346.6,363.2 L347.8,361.9 L348.9,362.2 L350.0,361.6 L351.2,361.9 L352.3,360.7 L353.4,360.0 L354.5,359.4 L355.7,360.6 L356.8,360.8 L357.9,362.2 L359.1,362.9 L360.2,362.6 L361.3,361.9 L362.5,361.6 L363.6,361.2 L364.7,361.1 L365.8,362.0 L367.0,363.2 L368.1,361.8 L369.2,361.3 L370.4,361.7 L371.5,360.9 L372.6,361.6 L373.8,362.0 L374.9,362.2 L376.0,363.1 L377.1,361.2 L378.3,360.9 L379.4,360.4 L380.5,361.4 L381.7,361.3 L382.8,361.8 L383.9,362.3 L385.1,361.0 L386.2,360.8 L387.3,361.1 L388.4,360.1 L389.6,360.6 L390.7,361.3 L391.8,362.1 L393.0,361.3 L394.1,360.2 L395.2,360.3 L396.4,360.4 L397.5,361.5 L398.6,361.3 L399.7,362.3 L400.9,362.1 L402.0,361.6 L403.1,361.1 L404.3,361.8 L405.4,360.9 L406.5,361.8 L407.7,362.7 L408.8,361.9 L409.9,360.8 L411.0,361.5 L412.2,361.3 L413.3,362.3 L414.4,361.8 L415.6,361.5 L416.7,361.4 L417.8,360.4 L419.0,360.6 L420.1,361.9 L421.2,361.5 L422.3,361.4 L423.5,361.3 L424.6,361.0 L425.7,361.4 L426.9,360.6 L428.0,360.8 L429.1,361.1 L430.3,362.9 L431.4,361.9 L432.5,361.0 L433.6,360.2 L434.8,360.0 L435.9,360.6 L437.0,362.0 L438.2,361.5 L439.3,361.2 L440.4,361.4 L441.6,360.6 L442.7,361.7 L443.8,360.7 L444.9,362.0 L446.1,362.8 L447.2,362.2 L448.3,362.7 L449.5,361.4 L450.6,360.9 L451.7,361.6 L452.9,361.6 L454.0,362.7 L455.1,362.4 L456.2,362.9 L457.4,362.4 L458.5,361.7 L459.6,361.4 L460.8,362.4 L461.9,362.9 L463.0,362.8 L464.2,362.4 L465.3,363.0 L466.4,361.7 L467.5,362.0 L468.7,364.1 L469.8,364.0 L470.9,364.7 L472.1,363.3 L473.2,363.6 L474.3,363.1 L475.5,363.8 L476.6,364.4 L477.7,364.5 L478.8,363.8 L480.0,363.6 L481.1,364.1 L482.2,364.0 L483.4,364.5 L484.5,364.2 L485.6,365.2 L486.8,365.3 L487.9,364.6 L489.0,364.3 L490.1,363.8 L491.3,364.4 L492.4,365.1 L493.5,364.8 L494.7,365.8 L495.8,365.4 L496.9,363.5 L498.1,364.8 L499.2,365.2 L500.3,365.4 L501.4,364.8 L502.6,366.0 L503.7,364.3 L504.8,365.1 L506.0,364.4 L507.1,363.8 L508.2,364.6 L509.4,365.8 L510.5,365.6 L511.6,365.3 L512.7,365.1 L513.9,363.8 L515.0,363.8 L516.1,365.9 L517.3,364.9 L518.4,366.2 L519.5,364.4 L520.7,365.0 L521.8,364.8 L522.9,365.3 L524.0,365.4 L525.2,366.3 L526.3,365.1 L527.4,365.4 L528.6,364.3 L529.7,365.0 L530.8,365.2 L532.0,365.4 L533.1,365.8 L534.2,364.9 L535.3,364.4 L536.5,364.8 L537.6,364.5 L538.7,365.4 L539.9,365.7 L541.0,365.3 L542.1,365.5 L543.3,365.6 L544.4,364.7 L545.5,363.7 L546.6,365.3 L547.8,365.9 L548.9,365.1 L550.0,365.7 L551.2,364.9 L552.3,365.0 L553.4,364.1 L554.6,364.3 L555.7,365.3 L556.8,366.5 L557.9,364.9 L559.1,364.4 L560.2,364.7 L561.3,364.9 L562.5,364.7 L563.6,365.2 L564.7,366.3 L565.9,366.1 L567.0,364.4 L568.1,365.2 L569.2,364.0 L570.4,364.5 L571.5,366.0 L572.6,365.7 L573.8,366.2 L574.9,364.7 L576.0,365.3 L577.2,364.1 L578.3,364.4 L579.4,365.6 L580.5,365.7 L581.7,365.9 L582.8,365.9 L583.9,365.0 L585.1,363.7 L586.2,364.6 L587.3,365.5 L588.5,365.8 L589.6,366.1 L590.7,365.1 L591.8,363.9 L593.0,364.0 L594.1,365.3 L595.2,365.1 L596.4,366.2 L597.5,366.4 L598.6,365.3 L599.8,364.8 L600.9,364.5 L602.0,364.4 L603.1,365.9 L604.3,365.6 L605.4,366.2 L606.5,364.7 L607.7,365.0 L608.8,364.7 L609.9,364.8 L611.1,365.1 L612.2,365.0 L613.3,365.9 L614.4,364.7 L615.6,364.6 L616.7,363.6 L617.8,363.8 L619.0,364.5 L620.1,366.0 L621.2,364.8 L622.4,365.4 L623.5,363.9 L624.6,364.0 L625.7,364.0 L626.9,365.0 L628.0,364.5 L629.1,364.8 L630.3,365.1 L631.4,363.3 L632.5,363.9 L633.7,363.6 L634.8,364.2 L635.9,364.1 L637.0,363.9 L638.2,364.8 L639.3,364.0 L640.4,363.8 L641.6,364.1 L642.7,364.9 L643.8,364.0 L645.0,364.6 L646.1,363.9 L647.2,363.4 L648.3,363.8 L649.5,363.9 L650.6,364.8 L651.7,363.8 L652.9,364.5 L654.0,364.0 L655.1,363.5 L656.3,363.1 L657.4,363.8 L658.5,363.5 L659.6,364.9 L660.8,363.9 L661.9,363.6 L663.0,363.4 L664.2,362.9 L665.3,362.5 L666.4,362.9 L667.6,363.4 L668.7,363.9 L669.8,364.3 L670.9,363.8 L672.1,363.1 L673.2,363.8 L674.3,365.3 L675.5,365.1 L676.6,365.3 L677.7,364.3 L678.9,364.1 L680.0,364.6 L681.1,365.3 L682.2,365.9 L683.4,365.9 L684.5,366.7 L685.6,365.5 L686.8,364.1 L687.9,363.7 L689.0,365.4 L690.2,365.9 L691.3,366.1 L692.4,365.4 L693.5,364.3 L694.7,363.3 L695.8,363.3 L696.9,363.5 L698.1,365.2 L699.2,365.5 L700.3,365.2 L701.5,363.6 L702.6,363.1 L703.7,363.0 L704.8,364.4 L706.0,363.8 L707.1,365.2 L708.2,365.0 L709.4,364.3 L710.5,364.5 L711.6,363.3 L712.8,364.2 L713.9,364.3 L715.0,364.6 L716.1,364.5 L717.3,364.5 L718.4,363.7 L719.5,363.5 L720.7,365.5 L721.8,365.2 L722.9,366.7 L724.1,366.6 L725.2,366.3 L726.3,365.9" fill="none" stroke="#F3B452" stroke-width="1"/>
  <path d="M315.0,357.6 L316.1,357.8 L317.3,357.4 L318.4,358.4 L319.5,359.4 L320.6,359.1 L321.8,359.1 L322.9,360.2 L324.0,358.7 L325.2,358.6 L326.3,360.5 L327.4,360.4 L328.6,361.8 L329.7,361.3 L330.8,361.2 L331.9,359.8 L333.1,360.6 L334.2,361.6 L335.3,361.8 L336.5,362.9 L337.6,362.9 L338.7,361.7 L339.9,362.8 L341.0,362.9 L342.1,363.1 L343.2,362.5 L344.4,363.6 L345.5,362.0 L346.6,361.3 L347.8,360.7 L348.9,359.9 L350.0,360.3 L351.2,359.5 L352.3,360.1 L353.4,358.9 L354.5,358.6 L355.7,357.6 L356.8,355.8 L357.9,356.1 L359.1,356.9 L360.2,358.6 L361.3,357.5 L362.5,357.2 L363.6,355.8 L364.7,355.8 L365.8,355.9 L367.0,356.5 L368.1,357.3 L369.2,357.2 L370.4,357.1 L371.5,356.0 L372.6,356.1 L373.8,356.3 L374.9,357.1 L376.0,357.0 L377.1,355.9 L378.3,356.4 L379.4,355.8 L380.5,355.4 L381.7,355.0 L382.8,355.8 L383.9,355.3 L385.1,356.3 L386.2,354.6 L387.3,352.9 L388.4,351.6 L389.6,352.8 L390.7,353.6 L391.8,353.6 L393.0,355.9 L394.1,355.7 L395.2,355.4 L396.4,355.3 L397.5,356.4 L398.6,357.1 L399.7,356.0 L400.9,356.8 L402.0,355.1 L403.1,355.5 L404.3,354.5 L405.4,355.8 L406.5,356.8 L407.7,356.5 L408.8,357.5 L409.9,355.8 L411.0,354.8 L412.2,355.6 L413.3,355.0 L414.4,356.1 L415.6,357.0 L416.7,357.1 L417.8,355.6 L419.0,354.5 L420.1,355.6 L421.2,354.8 L422.3,356.5 L423.5,356.7 L424.6,355.5 L425.7,355.2 L426.9,354.8 L428.0,354.9 L429.1,355.3 L430.3,356.1 L431.4,356.9 L432.5,357.6 L433.6,356.4 L434.8,355.8 L435.9,356.1 L437.0,355.5 L438.2,356.2 L439.3,357.9 L440.4,357.0 L441.6,356.4 L442.7,354.7 L443.8,355.1 L444.9,355.7 L446.1,355.4 L447.2,357.1 L448.3,357.1 L449.5,355.5 L450.6,356.0 L451.7,355.5 L452.9,356.3 L454.0,356.4 L455.1,357.6 L456.2,357.7 L457.4,355.9 L458.5,355.3 L459.6,356.3 L460.8,357.2 L461.9,356.6 L463.0,357.6 L464.2,357.8 L465.3,356.8 L466.4,356.4 L467.5,356.2 L468.7,356.8 L469.8,358.0 L470.9,358.2 L472.1,358.4 L473.2,358.7 L474.3,356.8 L475.5,357.6 L476.6,358.1 L477.7,357.8 L478.8,358.0 L480.0,358.9 L481.1,357.1 L482.2,356.2 L483.4,356.3 L484.5,357.0 L485.6,356.6 L486.8,357.7 L487.9,357.8 L489.0,358.2 L490.1,357.0 L491.3,357.7 L492.4,356.9 L493.5,358.1 L494.7,359.3 L495.8,359.6 L496.9,358.2 L498.1,357.0 L499.2,356.5 L500.3,357.5 L501.4,357.5 L502.6,359.0 L503.7,358.9 L504.8,357.1 L506.0,356.6 L507.1,357.5 L508.2,357.6 L509.4,358.7 L510.5,358.5 L511.6,358.2 L512.7,358.0 L513.9,358.4 L515.0,357.3 L516.1,357.7 L517.3,358.4 L518.4,358.8 L519.5,358.6 L520.7,358.8 L521.8,356.7 L522.9,356.0 L524.0,357.9 L525.2,358.4 L526.3,359.3 L527.4,358.3 L528.6,358.8 L529.7,358.2 L530.8,356.8 L532.0,358.2 L533.1,359.2 L534.2,359.5 L535.3,359.2 L536.5,358.1 L537.6,357.4 L538.7,356.8 L539.9,356.8 L541.0,358.3 L542.1,358.2 L543.3,358.9 L544.4,356.9 L545.5,357.7 L546.6,357.0 L547.8,357.7 L548.9,358.3 L550.0,358.7 L551.2,358.0 L552.3,356.4 L553.4,357.0 L554.6,355.6 L555.7,356.3 L556.8,357.8 L557.9,358.2 L559.1,358.1 L560.2,358.7 L561.3,357.6 L562.5,357.0 L563.6,357.4 L564.7,359.4 L565.9,359.2 L567.0,359.6 L568.1,358.2 L569.2,357.2 L570.4,357.5 L571.5,358.3 L572.6,357.8 L573.8,359.3 L574.9,359.5 L576.0,358.7 L577.2,358.2 L578.3,356.5 L579.4,358.1 L580.5,359.3 L581.7,358.4 L582.8,358.8 L583.9,358.3 L585.1,358.2 L586.2,357.7 L587.3,358.2 L588.5,359.4 L589.6,358.5 L590.7,358.5 L591.8,358.0 L593.0,357.3 L594.1,356.9 L595.2,358.9 L596.4,359.4 L597.5,358.5 L598.6,359.2 L599.8,358.3 L600.9,357.7 L602.0,357.5 L603.1,358.1 L604.3,358.4 L605.4,358.2 L606.5,358.1 L607.7,358.4 L608.8,357.9 L609.9,358.5 L611.1,358.3 L612.2,357.5 L613.3,356.7 L614.4,357.7 L615.6,358.3 L616.7,358.9 L617.8,358.2 L619.0,356.4 L620.1,356.7 L621.2,357.6 L622.4,357.9 L623.5,357.3 L624.6,356.6 L625.7,356.5 L626.9,355.7 L628.0,355.8 L629.1,354.7 L630.3,353.2 L631.4,352.8 L632.5,352.2 L633.7,350.5 L634.8,351.9 L635.9,353.5 L637.0,355.7 L638.2,356.4 L639.3,355.1 L640.4,355.7 L641.6,355.5 L642.7,353.8 L643.8,353.7 L645.0,352.5 L646.1,353.4 L647.2,352.8 L648.3,352.8 L649.5,352.8 L650.6,353.5 L651.7,354.9 L652.9,355.6 L654.0,354.0 L655.1,353.4 L656.3,350.9 L657.4,350.7 L658.5,352.5 L659.6,352.1 L660.8,352.8 L661.9,352.2 L663.0,352.4 L664.2,349.9 L665.3,349.6 L666.4,351.7 L667.6,351.4 L668.7,353.4 L669.8,353.0 L670.9,352.7 L672.1,352.3 L673.2,351.7 L674.3,352.7 L675.5,352.3 L676.6,355.0 L677.7,355.3 L678.9,356.0 L680.0,354.2 L681.1,354.5 L682.2,354.7 L683.4,353.5 L684.5,355.0 L685.6,356.0 L686.8,356.4 L687.9,354.3 L689.0,353.3 L690.2,353.2 L691.3,354.0 L692.4,354.2 L693.5,352.9 L694.7,351.9 L695.8,351.6 L696.9,351.5 L698.1,352.3 L699.2,352.7 L700.3,354.2 L701.5,355.3 L702.6,354.0 L703.7,354.2 L704.8,353.2 L706.0,354.8 L707.1,356.2 L708.2,357.1 L709.4,357.4 L710.5,356.3 L711.6,355.3 L712.8,355.0 L713.9,353.9 L715.0,354.8 L716.1,356.7 L717.3,357.2 L718.4,355.6 L719.5,354.5 L720.7,354.4 L721.8,354.5 L722.9,356.2 L724.1,357.4 L725.2,358.2 L726.3,356.7" fill="none" stroke="#E383B3" stroke-width="1"/>
  <path d="M315.0,341.4 L316.1,343.3 L317.3,342.6 L318.4,339.5 L319.5,339.1 L320.6,339.9 L321.8,340.2 L322.9,339.7 L324.0,338.9 L325.2,338.4 L326.3,337.7 L327.4,336.1 L328.6,338.2 L329.7,337.9 L330.8,339.0 L331.9,340.5 L333.1,339.8 L334.2,338.6 L335.3,337.2 L336.5,336.9 L337.6,337.5 L338.7,338.0 L339.9,344.0 L341.0,351.1 L342.1,349.9 L343.2,348.9 L344.4,345.2 L345.5,341.6 L346.6,336.1 L347.8,331.4 L348.9,326.3 L350.0,322.2 L351.2,320.9 L352.3,321.6 L353.4,324.3 L354.5,326.8 L355.7,327.5 L356.8,323.9 L357.9,320.8 L359.1,317.1 L360.2,319.9 L361.3,322.5 L362.5,323.9 L363.6,326.2 L364.7,327.3 L365.8,321.9 L367.0,317.4 L368.1,312.4 L369.2,309.7 L370.4,305.8 L371.5,303.3 L372.6,303.3 L373.8,303.0 L374.9,304.4 L376.0,308.8 L377.1,314.5 L378.3,319.0 L379.4,319.9 L380.5,316.8 L381.7,311.9 L382.8,308.6 L383.9,307.4 L385.1,306.4 L386.2,304.9 L387.3,303.4 L388.4,303.1 L389.6,302.5 L390.7,303.5 L391.8,306.8 L393.0,311.0 L394.1,315.5 L395.2,315.8 L396.4,312.3 L397.5,309.6 L398.6,307.3 L399.7,305.3 L400.9,304.2 L402.0,303.5 L403.1,305.1 L404.3,306.2 L405.4,305.7 L406.5,305.6 L407.7,305.3 L408.8,304.1 L409.9,305.9 L411.0,308.7 L412.2,309.1 L413.3,306.2 L414.4,303.5 L415.6,302.6 L416.7,305.7 L417.8,307.4 L419.0,311.7 L420.1,315.2 L421.2,312.2 L422.3,304.1 L423.5,308.4 L424.6,314.2 L425.7,318.9 L426.9,322.6 L428.0,319.9 L429.1,317.1 L430.3,317.2 L431.4,319.5 L432.5,326.7 L433.6,327.1 L434.8,323.6 L435.9,320.8 L437.0,324.1 L438.2,327.8 L439.3,328.5 L440.4,327.3 L441.6,324.8 L442.7,318.4 L443.8,310.7 L444.9,308.4 L446.1,308.7 L447.2,309.5 L448.3,311.9 L449.5,314.3 L450.6,312.8 L451.7,311.3 L452.9,308.7 L454.0,309.7 L455.1,312.6 L456.2,315.2 L457.4,318.5 L458.5,318.8 L459.6,318.5 L460.8,319.2 L461.9,318.9 L463.0,319.5 L464.2,321.3 L465.3,322.9 L466.4,322.5 L467.5,322.5 L468.7,323.3 L469.8,323.4 L470.9,324.9 L472.1,328.4 L473.2,330.8 L474.3,330.5 L475.5,327.7 L476.6,324.8 L477.7,326.3 L478.8,330.4 L480.0,330.6 L481.1,329.8 L482.2,329.8 L483.4,329.8 L484.5,327.7 L485.6,328.5 L486.8,331.0 L487.9,334.4 L489.0,332.7 L490.1,332.3 L491.3,329.8 L492.4,326.7 L493.5,324.0 L494.7,326.5 L495.8,327.9 L496.9,327.3 L498.1,324.9 L499.2,323.6 L500.3,323.2 L501.4,325.2 L502.6,328.5 L503.7,331.3 L504.8,331.9 L506.0,332.5 L507.1,331.5 L508.2,328.8 L509.4,328.9 L510.5,332.9 L511.6,334.6 L512.7,335.8 L513.9,334.8 L515.0,334.3 L516.1,334.1 L517.3,333.6 L518.4,335.0 L519.5,333.9 L520.7,335.7 L521.8,337.5 L522.9,337.6 L524.0,336.2 L525.2,336.2 L526.3,336.0 L527.4,337.5 L528.6,339.2 L529.7,339.9 L530.8,339.5 L532.0,338.5 L533.1,339.4 L534.2,339.8 L535.3,340.7 L536.5,341.8 L537.6,342.5 L538.7,340.4 L539.9,339.2 L541.0,339.5 L542.1,341.9 L543.3,342.6 L544.4,340.8 L545.5,340.4 L546.6,340.7 L547.8,341.6 L548.9,340.4 L550.0,339.2 L551.2,339.4 L552.3,341.9 L553.4,343.1 L554.6,342.5 L555.7,340.1 L556.8,340.2 L557.9,340.2 L559.1,340.8 L560.2,342.6 L561.3,340.7 L562.5,340.1 L563.6,337.5 L564.7,337.5 L565.9,339.5 L567.0,335.3 L568.1,333.8 L569.2,341.5 L570.4,342.7 L571.5,342.4 L572.6,341.1 L573.8,340.3 L574.9,341.8 L576.0,343.3 L577.2,345.2 L578.3,344.0 L579.4,340.8 L580.5,341.0 L581.7,342.0 L582.8,344.3 L583.9,345.1 L585.1,345.9 L586.2,344.6 L587.3,344.4 L588.5,343.8 L589.6,344.4 L590.7,345.3 L591.8,345.4 L593.0,346.6 L594.1,346.0 L595.2,345.1 L596.4,345.2 L597.5,347.0 L598.6,348.0 L599.8,350.6 L600.9,351.1 L602.0,349.9 L603.1,349.5 L604.3,348.7 L605.4,347.3 L606.5,349.0 L607.7,348.5 L608.8,349.4 L609.9,350.8 L611.1,348.5 L612.2,347.9 L613.3,349.2 L614.4,348.8 L615.6,348.7 L616.7,349.1 L617.8,349.3 L619.0,349.9 L620.1,348.5 L621.2,350.7 L622.4,350.5 L623.5,351.8 L624.6,351.0 L625.7,347.7 L626.9,345.1 L628.0,343.1 L629.1,340.5 L630.3,340.2 L631.4,339.4 L632.5,339.5 L633.7,342.2 L634.8,339.9 L635.9,338.8 L637.0,342.1 L638.2,344.6 L639.3,343.3 L640.4,346.6 L641.6,349.4 L642.7,345.1 L643.8,341.4 L645.0,344.8 L646.1,346.9 L647.2,347.4 L648.3,342.4 L649.5,337.7 L650.6,333.2 L651.7,330.2 L652.9,333.2 L654.0,336.2 L655.1,342.6 L656.3,346.5 L657.4,347.8 L658.5,346.3 L659.6,341.8 L660.8,339.8 L661.9,338.4 L663.0,338.1 L664.2,338.6 L665.3,339.5 L666.4,335.7 L667.6,333.3 L668.7,334.3 L669.8,335.0 L670.9,335.7 L672.1,336.9 L673.2,337.1 L674.3,337.5 L675.5,338.9 L676.6,340.5 L677.7,342.9 L678.9,346.1 L680.0,345.8 L681.1,344.4 L682.2,341.0 L683.4,338.6 L684.5,338.0 L685.6,336.5 L686.8,336.4 L687.9,334.4 L689.0,336.7 L690.2,336.7 L691.3,336.7 L692.4,336.1 L693.5,334.3 L694.7,335.2 L695.8,332.4 L696.9,331.5 L698.1,329.7 L699.2,328.0 L700.3,329.7 L701.5,332.5 L702.6,336.4 L703.7,339.5 L704.8,336.8 L706.0,335.8 L707.1,333.4 L708.2,335.9 L709.4,336.1 L710.5,335.5 L711.6,334.4 L712.8,331.3 L713.9,328.2 L715.0,328.1 L716.1,330.0 L717.3,333.7 L718.4,336.4 L719.5,339.6 L720.7,341.1 L721.8,338.4 L722.9,335.1 L724.1,335.3 L725.2,337.2 L726.3,341.5" fill="none" stroke="#52C0E8" stroke-width="1.15"/>
  <path d="M315.0,355.0 L316.1,353.6 L317.3,350.7 L318.4,351.3 L319.5,353.5 L320.6,353.9 L321.8,355.2 L322.9,355.7 L324.0,354.5 L325.2,352.6 L326.3,353.1 L327.4,353.3 L328.6,354.4 L329.7,355.7 L330.8,357.4 L331.9,356.7 L333.1,355.1 L334.2,355.0 L335.3,356.3 L336.5,357.8 L337.6,359.1 L338.7,359.8 L339.9,360.5 L341.0,359.9 L342.1,360.0 L343.2,361.6 L344.4,360.9 L345.5,360.0 L346.6,356.6 L347.8,354.8 L348.9,354.8 L350.0,352.8 L351.2,352.5 L352.3,353.3 L353.4,355.6 L354.5,356.6 L355.7,356.7 L356.8,354.1 L357.9,352.2 L359.1,351.6 L360.2,351.1 L361.3,351.5 L362.5,350.2 L363.6,349.8 L364.7,347.6 L365.8,344.5 L367.0,344.9 L368.1,344.8 L369.2,344.1 L370.4,342.7 L371.5,340.3 L372.6,338.5 L373.8,335.7 L374.9,335.6 L376.0,335.1 L377.1,336.2 L378.3,335.5 L379.4,333.0 L380.5,331.5 L381.7,331.1 L382.8,330.7 L383.9,329.9 L385.1,328.0 L386.2,325.9 L387.3,323.5 L388.4,319.1 L389.6,317.7 L390.7,317.2 L391.8,326.0 L393.0,332.3 L394.1,331.7 L395.2,328.4 L396.4,324.9 L397.5,322.4 L398.6,320.1 L399.7,317.2 L400.9,314.0 L402.0,311.6 L403.1,309.0 L404.3,306.8 L405.4,304.3 L406.5,302.4 L407.7,308.2 L408.8,312.4 L409.9,316.6 L411.0,318.2 L412.2,321.3 L413.3,322.6 L414.4,326.6 L415.6,328.7 L416.7,326.8 L417.8,323.7 L419.0,321.8 L420.1,321.8 L421.2,319.2 L422.3,313.4 L423.5,309.3 L424.6,309.1 L425.7,306.1 L426.9,307.4 L428.0,310.7 L429.1,309.3 L430.3,306.4 L431.4,305.8 L432.5,303.9 L433.6,305.7 L434.8,304.3 L435.9,306.0 L437.0,307.1 L438.2,310.9 L439.3,315.9 L440.4,318.4 L441.6,322.0 L442.7,321.4 L443.8,311.3 L444.9,304.9 L446.1,303.2 L447.2,299.4 L448.3,298.3 L449.5,297.0 L450.6,295.9 L451.7,295.0 L452.9,293.0 L454.0,291.0 L455.1,292.9 L456.2,296.9 L457.4,298.8 L458.5,299.1 L459.6,299.4 L460.8,299.4 L461.9,300.3 L463.0,301.4 L464.2,302.1 L465.3,301.7 L466.4,301.5 L467.5,299.5 L468.7,298.3 L469.8,299.2 L470.9,301.9 L472.1,302.3 L473.2,304.0 L474.3,302.8 L475.5,301.5 L476.6,300.3 L477.7,303.8 L478.8,305.2 L480.0,309.4 L481.1,312.4 L482.2,306.3 L483.4,305.0 L484.5,309.4 L485.6,309.0 L486.8,305.8 L487.9,303.5 L489.0,303.4 L490.1,303.5 L491.3,304.1 L492.4,307.2 L493.5,305.3 L494.7,306.1 L495.8,309.0 L496.9,309.5 L498.1,306.6 L499.2,309.9 L500.3,311.1 L501.4,308.1 L502.6,305.3 L503.7,303.2 L504.8,302.4 L506.0,304.6 L507.1,307.6 L508.2,315.0 L509.4,319.8 L510.5,321.6 L511.6,320.0 L512.7,315.5 L513.9,315.6 L515.0,319.1 L516.1,313.6 L517.3,310.5 L518.4,313.7 L519.5,315.9 L520.7,319.4 L521.8,323.4 L522.9,323.4 L524.0,323.2 L525.2,320.1 L526.3,317.1 L527.4,319.6 L528.6,322.4 L529.7,323.7 L530.8,322.8 L532.0,324.1 L533.1,319.5 L534.2,314.4 L535.3,313.5 L536.5,319.2 L537.6,322.0 L538.7,321.0 L539.9,319.5 L541.0,314.1 L542.1,313.8 L543.3,318.8 L544.4,316.1 L545.5,312.5 L546.6,311.5 L547.8,312.8 L548.9,320.4 L550.0,321.7 L551.2,319.4 L552.3,311.2 L553.4,309.7 L554.6,317.5 L555.7,318.9 L556.8,318.1 L557.9,319.9 L559.1,321.3 L560.2,323.2 L561.3,322.8 L562.5,322.7 L563.6,318.4 L564.7,313.7 L565.9,310.3 L567.0,319.1 L568.1,326.6 L569.2,325.8 L570.4,325.3 L571.5,324.8 L572.6,325.9 L573.8,327.9 L574.9,328.4 L576.0,329.5 L577.2,328.7 L578.3,329.3 L579.4,329.4 L580.5,329.0 L581.7,331.6 L582.8,333.6 L583.9,334.6 L585.1,334.4 L586.2,332.1 L587.3,330.9 L588.5,331.1 L589.6,332.5 L590.7,335.8 L591.8,337.2 L593.0,337.5 L594.1,336.6 L595.2,336.9 L596.4,338.0 L597.5,339.0 L598.6,340.9 L599.8,342.5 L600.9,342.3 L602.0,342.6 L603.1,343.6 L604.3,345.0 L605.4,346.2 L606.5,348.3 L607.7,347.7 L608.8,347.6 L609.9,347.9 L611.1,346.2 L612.2,347.0 L613.3,347.2 L614.4,347.9 L615.6,349.3 L616.7,348.9 L617.8,347.4 L619.0,346.2 L620.1,348.5 L621.2,351.0 L622.4,352.9 L623.5,351.8 L624.6,349.4 L625.7,348.8 L626.9,347.9 L628.0,348.5 L629.1,348.4 L630.3,347.1 L631.4,345.9 L632.5,345.7 L633.7,345.4 L634.8,344.8 L635.9,347.1 L637.0,348.5 L638.2,351.0 L639.3,350.3 L640.4,348.6 L641.6,345.2 L642.7,345.0 L643.8,345.4 L645.0,347.1 L646.1,346.5 L647.2,346.8 L648.3,347.1 L649.5,345.5 L650.6,346.2 L651.7,347.0 L652.9,348.3 L654.0,350.3 L655.1,351.3 L656.3,350.6 L657.4,349.3 L658.5,349.6 L659.6,348.9 L660.8,350.4 L661.9,350.8 L663.0,350.7 L664.2,349.7 L665.3,347.2 L666.4,347.2 L667.6,348.0 L668.7,347.5 L669.8,345.2 L670.9,347.5 L672.1,348.9 L673.2,349.1 L674.3,349.6 L675.5,351.2 L676.6,352.5 L677.7,352.9 L678.9,350.7 L680.0,352.1 L681.1,352.0 L682.2,352.6 L683.4,354.6 L684.5,355.4 L685.6,354.6 L686.8,355.7 L687.9,355.5 L689.0,354.2 L690.2,355.5 L691.3,356.2 L692.4,356.8 L693.5,359.1 L694.7,358.0 L695.8,357.4 L696.9,355.5 L698.1,354.1 L699.2,354.3 L700.3,354.4 L701.5,353.9 L702.6,354.7 L703.7,351.9 L704.8,350.4 L706.0,352.3 L707.1,354.9 L708.2,356.7 L709.4,358.5 L710.5,358.8 L711.6,357.7 L712.8,355.4 L713.9,354.2 L715.0,355.2 L716.1,355.7 L717.3,356.9 L718.4,358.2 L719.5,356.1 L720.7,355.7 L721.8,355.0 L722.9,355.2 L724.1,357.1 L725.2,358.4 L726.3,358.5" fill="none" stroke="#42C042" stroke-width="1.15"/>
  <rect x="705" y="368" width="19.5" height="4.5" fill="#d8d8d6"/>
  <g font-family="Liberation Sans, sans-serif" font-size="4.6" font-weight="bold" fill="#55C655" text-anchor="middle"><text x="553.3" y="305.2">A</text><text x="566" y="307.2">B</text></g>
  <g font-family="Liberation Sans, sans-serif" font-size="3.6" fill="#9a9a9a"><text x="328.5" y="381.3" text-anchor="middle">2020-01-22</text><text x="352.7" y="381.3" text-anchor="middle">2020-02-12</text><text x="377.0" y="381.3" text-anchor="middle">2020-03-04</text><text x="400.7" y="381.3" text-anchor="middle">2020-03-25</text><text x="424.6" y="381.3" text-anchor="middle">2020-04-15</text><text x="448.8" y="381.3" text-anchor="middle">2020-05-06</text><text x="471.9" y="381.3" text-anchor="middle">2020-05-27</text><text x="495.7" y="381.3" text-anchor="middle">2020-06-17</text><text x="519.6" y="381.3" text-anchor="middle">2020-07-08</text><text x="543.4" y="381.3" text-anchor="middle">2020-07-29</text><text x="566.7" y="381.3" text-anchor="middle">2020-08-19</text><text x="590.5" y="381.3" text-anchor="middle">2020-09-09</text><text x="614.0" y="381.3" text-anchor="middle">2020-09-30</text><text x="637.9" y="381.3" text-anchor="middle">2020-10-21</text><text x="661.7" y="381.3" text-anchor="middle">2020-11-11</text><text x="685.2" y="381.3" text-anchor="middle">2020-12-02</text><text x="718.0" y="381.3" text-anchor="middle">2020-12-31</text><text x="317" y="288.3">1,000</text><text x="317" y="305.6">800</text><text x="317" y="322.9">600</text><text x="317" y="340.2">400</text><text x="317" y="357.5">200</text></g>
</svg>

<div class="abs" style="left:634px;top:426px;font-size:7px;letter-spacing:-0.17px;color:#2a2a2a;white-space:nowrap;line-height:8px">©数据来源：GfK51城市推总数据</div>
</body></html>
